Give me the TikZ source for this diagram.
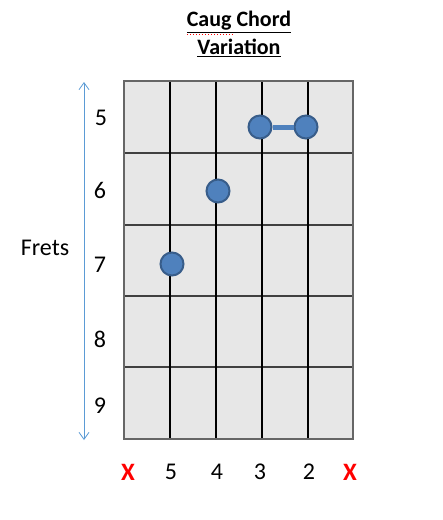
\documentclass[tikz,border=0pt]{standalone}
\usepackage{fontspec}
\setmainfont{Carlito}
\usetikzlibrary{arrows.meta}
\definecolor{cellgray}{HTML}{E7E7E7}
\definecolor{dotblue}{HTML}{4F81BD}
\definecolor{dotedge}{HTML}{385D8A}
\definecolor{arrowblue}{HTML}{5B9BD5}
\tikzset{
  fret/.style={font=\fontsize{24}{28}\selectfont},
  string/.style={font=\fontsize{24}{28}\selectfont},
  mute/.style={font=\bfseries\fontsize{25}{28}\selectfont, text=red},
  finger/.style={circle, draw=dotedge, line width=2pt, fill=dotblue, minimum size=23pt, inner sep=0pt},
  heading/.style={font=\bfseries\fontsize{22}{26}\selectfont},
}
\begin{document}
\begin{tikzpicture}[x=1pt, y=-1pt]
        \useasboundingbox (0,0) rectangle (443,520);
        % Board
        \fill[cellgray] (124,81) rectangle (353,439);
        \foreach \y in {153,225,296,367}
            \draw[line width=1.8pt, black!75] (124,\y) -- (353,\y);
        \foreach \x in {170,216,262,308}
            \draw[line width=1.4pt, black] (\x,81) -- (\x,439);
        \draw[line width=1.4pt, black!60] (124,81) rectangle (353,439);

        % Title
        \node[heading] (title) at (239,22) {\underline{Caug Chord}};
        \node[heading] (title2) at (239,48) {\underline{Variation}};
        \draw[red, dotted, line width=1pt] (187,34.5) -- (233,34.5);

        % Frets
        \node[fret] (f5) at (101,118) {5};
        \node[fret] (f6) at (100,190) {6};
        \node[fret] (f7) at (100,265) {7};
        \node[fret] (f8) at (100,339) {8};
        \node[fret] (f9) at (100,406) {9};
        \node[fret] (frets) at (45,248) {Frets};
        \coordinate (top) at (84,82);
        \coordinate (bot) at (84,440);
        \draw[arrowblue, line width=0.8pt, {Straight Barb[length=7pt, width=10pt]}-{Straight Barb[length=7pt, width=10pt]}] (top) -- (bot);

        % Strings
        \node[mute] (x6) at (128,472) {X};
        \node[string] (s5) at (171,472) {5};
        \node[string] (s4) at (217,472) {4};
        \node[string] (s3) at (260,472) {3};
        \node[string] (s2) at (309,472) {2};
        \node[mute] (x1) at (350,472) {X};

        % Fingers
        \node[finger] (A) at (260,127) {};
        \node[finger] (B) at (306,127) {};
        \node[finger] (C) at (218,191) {};
        \node[finger] (D) at (172,264) {};

        % Barre
        \draw[dotblue, line width=5pt] (A) -- (B);
    \end{tikzpicture}
\end{document}
